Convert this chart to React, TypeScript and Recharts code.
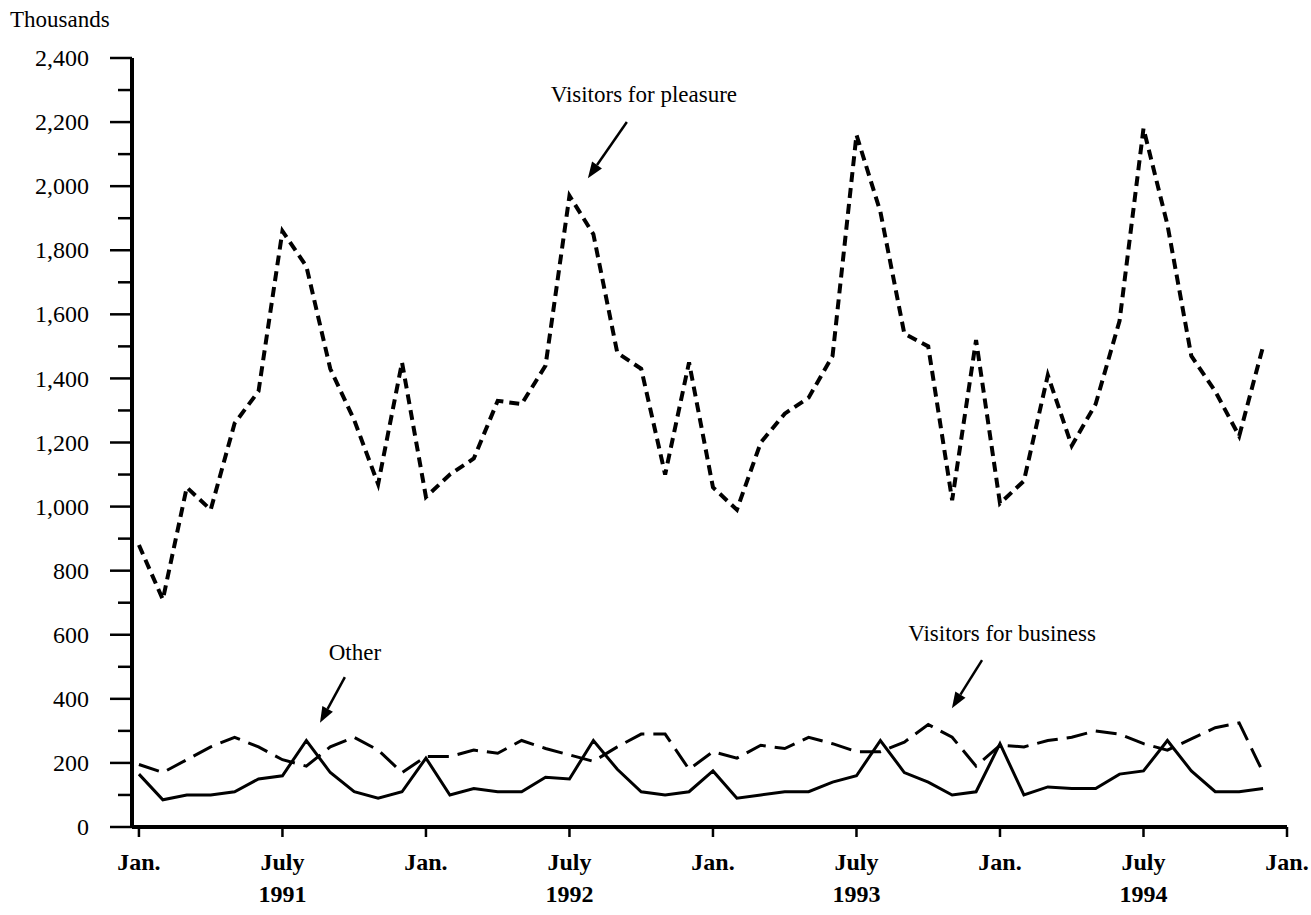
import React from 'react';
import { LineChart, Line, XAxis, YAxis, ReferenceLine, Customized } from 'recharts';

// monthly, Jan 1991 .. Dec 1994 (index 0..47)
const monthNames = ['Jan', 'Feb', 'Mar', 'Apr', 'May', 'Jun', 'Jul', 'Aug', 'Sep', 'Oct', 'Nov', 'Dec'];
const years = [1991, 1992, 1993, 1994];

// thousands of visitors
const pleasure = [
  880, 710, 1060, 990, 1260, 1360, 1860, 1750, 1430, 1270, 1070, 1450,
  1030, 1100, 1150, 1330, 1320, 1440, 1970, 1850, 1480, 1430, 1100, 1450,
  1060, 990, 1200, 1290, 1340, 1470, 2160, 1920, 1540, 1500, 1020, 1520,
  1010, 1080, 1410, 1190, 1320, 1580, 2180, 1880, 1470, 1360, 1220, 1500,
];
const business = [
  195, 170, 210, 250, 280, 250, 210, 190, 250, 280, 240, 170,
  220, 220, 240, 230, 270, 245, 225, 205, 250, 290, 290, 180,
  235, 215, 255, 245, 280, 260, 235, 235, 265, 320, 280, 190,
  255, 250, 270, 280, 300, 290, 260, 240, 275, 310, 325, 170,
];
const other = [
  165, 85, 100, 100, 110, 150, 160, 270, 170, 110, 90, 110,
  215, 100, 120, 110, 110, 155, 150, 270, 180, 110, 100, 110,
  175, 90, 100, 110, 110, 140, 160, 270, 170, 140, 100, 110,
  260, 100, 125, 120, 120, 165, 175, 270, 175, 110, 110, 120,
];

const xTicks = [0, 6, 12, 18, 24, 30, 36, 42, 48];
const xTickLabels = ['Jan.', 'July', 'Jan.', 'July', 'Jan.', 'July', 'Jan.', 'July', 'Jan.'];
const xTickYears = ['', '1991', '', '1992', '', '1993', '', '1994', ''];

const yTicks = [
  0, 100, 200, 300, 400, 500, 600, 700, 800, 900, 1000, 1100, 1200,
  1300, 1400, 1500, 1600, 1700, 1800, 1900, 2000, 2100, 2200, 2300, 2400,
];

const data = pleasure.map((p, i) => ({
  month: `${monthNames[i % 12]} ${years[Math.floor(i / 12)]}`,
  idx: i,
  pleasure: p,
  business: business[i],
  other: other[i],
}));

const FONT = "'Liberation Serif', 'Times New Roman', Times, serif";

const YTick = (props: any) => {
  const { x, y, payload } = props;
  const major = payload.value % 200 === 0;
  return (
    <g>
      <line x1={x - (major ? 22 : 14)} x2={x} y1={y} y2={y} stroke="#000" strokeWidth={2.5} />
      {major && (
        <text x={x - 43} y={y} dy="0.34em" textAnchor="end" fontFamily={FONT} fontSize={24} fill="#000">
          {payload.value.toLocaleString('en-US')}
        </text>
      )}
    </g>
  );
};

const XTick = (props: any) => {
  const { x, y, payload } = props;
  const i = xTicks.indexOf(payload.value);
  return (
    <g>
      <line x1={x} x2={x} y1={y} y2={y + 10} stroke="#000" strokeWidth={2.5} />
      <text x={x} y={y + 43} textAnchor="middle" fontFamily={FONT} fontWeight="bold" fontSize={24} fill="#000">
        {xTickLabels[i]}
      </text>
      <text x={x} y={y + 75} textAnchor="middle" fontFamily={FONT} fontWeight="bold" fontSize={24} fill="#000">
        {xTickYears[i]}
      </text>
    </g>
  );
};

// annotation arrows (tail -> head in data units) and their text offsets
const notes = [
  { text: 'Visitors for pleasure', from: { x: 20.4, y: 2200 }, to: { x: 18.77, y: 2025 }, dx: 17, dy: -20 },
  { text: 'Other', from: { x: 8.61, y: 468 }, to: { x: 7.57, y: 325 }, dx: 10, dy: -17 },
  { text: 'Visitors for business', from: { x: 35.25, y: 521 }, to: { x: 33.99, y: 371 }, dx: 20, dy: -19 },
];

const arrowShape = (text: string, dx: number, dy: number) => (p: any) => {
  const { x1, y1, x2, y2 } = p;
  const ang = Math.atan2(y2 - y1, x2 - x1);
  const len = 16;
  const half = 6;
  const bx = x2 - len * Math.cos(ang);
  const by = y2 - len * Math.sin(ang);
  const nx = -Math.sin(ang) * half;
  const ny = Math.cos(ang) * half;
  return (
    <g>
      <line x1={x1} y1={y1} x2={bx} y2={by} stroke="#000" strokeWidth={2.5} />
      <polygon points={`${x2},${y2} ${bx + nx},${by + ny} ${bx - nx},${by - ny}`} fill="#000" />
      <text x={x1 + dx} y={y1 + dy} textAnchor="middle" fontFamily={FONT} fontSize={23} fill="#000">
        {text}
      </text>
    </g>
  );
};

const UnitLabel = () => (
  <text x={10} y={27} fontFamily={FONT} fontSize={23} fill="#000">
    Thousands
  </text>
);

export default function App() {
  return (
    <div style={{ width: 1311, height: 907, background: '#fff' }}>
      <style>{'body { margin: 0; } .recharts-surface { overflow: visible; }'}</style>
      <LineChart
        width={1311}
        height={907}
        data={data}
        margin={{ top: 58, right: 24, bottom: 0, left: 0 }}
      >
        <XAxis
          dataKey="idx"
          type="number"
          domain={[-0.29, 48]}
          ticks={xTicks}
          interval={0}
          height={80}
          axisLine={{ stroke: '#000', strokeWidth: 4 }}
          tickLine={false}
          tickSize={0}
          tickMargin={0}
          tick={<XTick />}
          allowDataOverflow
        />
        <YAxis
          type="number"
          domain={[0, 2400]}
          ticks={yTicks}
          interval={0}
          width={132}
          axisLine={{ stroke: '#000', strokeWidth: 4 }}
          tickLine={false}
          tickSize={0}
          tickMargin={0}
          tick={<YTick />}
        />
        <Line
          type="linear"
          dataKey="pleasure"
          stroke="#000"
          strokeWidth={4}
          strokeDasharray="10 6"
          dot={false}
          isAnimationActive={false}
        />
        <Line
          type="linear"
          dataKey="business"
          stroke="#000"
          strokeWidth={3}
          strokeDasharray="21 9"
          dot={false}
          isAnimationActive={false}
        />
        <Line
          type="linear"
          dataKey="other"
          stroke="#000"
          strokeWidth={3}
          dot={false}
          isAnimationActive={false}
        />
        {notes.map((n) => (
          <ReferenceLine
            key={n.text}
            segment={[n.from, n.to]}
            shape={arrowShape(n.text, n.dx, n.dy)}
          />
        ))}
        <Customized component={UnitLabel} />
      </LineChart>
    </div>
  );
}
